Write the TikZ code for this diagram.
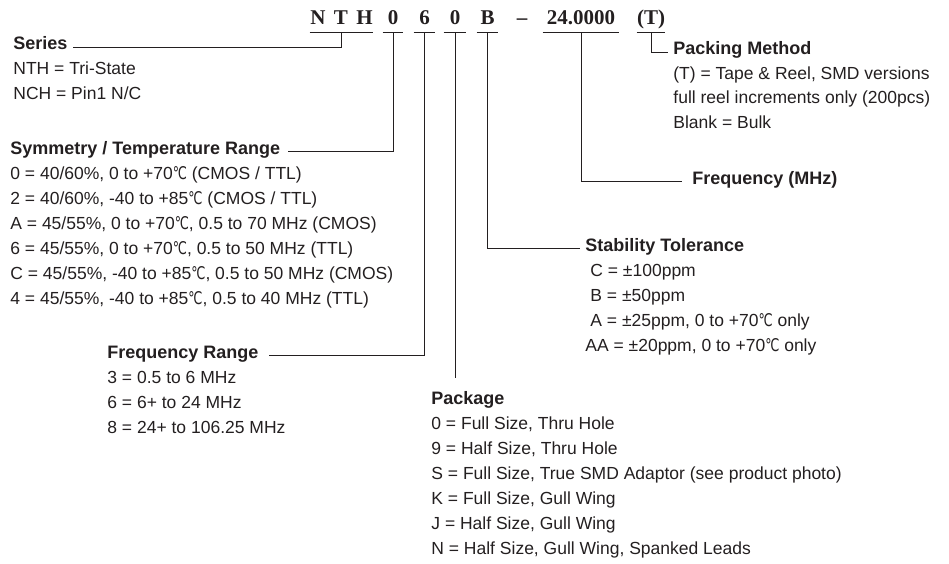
\documentclass[tikz,border=0pt]{standalone}
\usepackage{fontspec}
\usepackage{graphicx}
\setmainfont{Liberation Sans}
\newfontfamily\codefont{Liberation Serif}
\newfontfamily\symfont{DejaVu Sans}
\newcommand\degC{\scalebox{0.72}[1]{\symfont ℃}}
\definecolor{ink}{HTML}{231F20}

\begin{document}
\begin{tikzpicture}[x=1pt, y=-1pt, line width=0.8pt, draw=ink, text=ink,
  code/.style={font=\codefont\bfseries\fontsize{21}{21}\selectfont,
    anchor=base, inner sep=0pt, text depth=7pt},
  head/.style={font=\bfseries\fontsize{18}{20}\selectfont,
    anchor=base west, inner sep=0pt},
  item/.style={font=\fontsize{17.5}{20}\selectfont,
    anchor=base west, inner sep=0pt},
]
  \useasboundingbox (0,0) rectangle (949,564);
  % part number, each field underlined
  \node[code, minimum width=63pt] (ser) at (341.5,25) {N\hspace{8.5pt}T\hspace{8.5pt}H};
  \node[code, minimum width=20pt] (sym) at (393,25) {0};
  \node[code, minimum width=21pt] (rng) at (424.5,25) {6};
  \node[code, minimum width=22pt] (pkg) at (455,25) {0};
  \node[code, minimum width=21pt] (stb) at (487.5,25) {B};
  \node[code] (dash) at (522,25) {–};
  \node[code, minimum width=76pt] (frq) at (581,25) {24.0000};
  \node[code, minimum width=20pt] (pck) at (651,25) {(T)};
  \foreach \c in {ser,sym,rng,pkg,stb,frq,pck}
    \draw (\c.south west) -- (\c.south east);

  % Series
  \node[head] (series) at (13,50) {Series};
  \foreach \t [count=\i] in {NTH = Tri-State, NCH = Pin1 N/C}
    \node[item] (series-\i) at (13,50+25*\i) {\t};

  % Symmetry / Temperature
  \node[head] (symmetry) at (10,154) {Symmetry / Temperature Range};
  \foreach \t [count=\i] in {
      {0 = 40/60\%, 0 to +70\degC{} (CMOS / TTL)},
      {2 = 40/60\%, -40 to +85\degC{} (CMOS / TTL)},
      {A = 45/55\%, 0 to +70\degC, 0.5 to 70 MHz (CMOS)},
      {6 = 45/55\%, 0 to +70\degC, 0.5 to 50 MHz (TTL)},
      {C = 45/55\%, -40 to +85\degC, 0.5 to 50 MHz (CMOS)},
      {4 = 45/55\%, -40 to +85\degC, 0.5 to 40 MHz (TTL)}}
    \node[item] (symmetry-\i) at (10,154+25*\i) {\t};

  % Frequency Range
  \node[head] (freqrange) at (107,358) {Frequency Range};
  \foreach \t [count=\i] in {3 = 0.5 to 6 MHz, 6 = 6+ to 24 MHz, 8 = 24+ to 106.25 MHz}
    \node[item] (freqrange-\i) at (107,358+25*\i) {\t};

  % Package
  \node[head] (package) at (431,404) {Package};
  \foreach \t [count=\i] in {
      {0 = Full Size, Thru Hole},
      {9 = Half Size, Thru Hole},
      {S = Full Size, True SMD Adaptor (see product photo)},
      {K = Full Size, Gull Wing},
      {J = Half Size, Gull Wing},
      {N = Half Size, Gull Wing, Spanked Leads}}
    \node[item] (package-\i) at (431,404+25*\i) {\t};

  % Stability
  \node[head] (stability) at (585,251) {Stability Tolerance};
  \foreach \dx/\t [count=\i] in {590/{C = ±100ppm}, 590/{B = ±50ppm},
      590/{A = ±25ppm, 0 to +70\degC{} only}, 585/{AA = ±20ppm, 0 to +70\degC{} only}}
    \node[item] (stability-\i) at (\dx,251+25*\i) {\t};

  % Frequency
  \node[head] (frequency) at (692,184) {Frequency (MHz)};

  % Packing
  \node[head] (packing) at (673,55) {Packing Method};
  \foreach \t [count=\i] in {{(T) = Tape \& Reel, SMD versions},
      full reel increments only (200pcs), Blank = Bulk}
    \node[item] (packing-\i) at (673,55+24.5*\i) {\t};

  % leaders
  \draw (ser.south) |- ([xshift=5pt]series.mid east);
  \draw (sym.south) |- ([xshift=7pt]symmetry.mid east);
  \draw (rng.south) |- ([xshift=10pt]freqrange.mid east);
  \draw (pkg.south) -- ([yshift=13pt]pkg.south |- package.north);
  \draw (stb.south) |- ([xshift=-5pt]stability.mid west);
  \draw (frq.south) |- ([xshift=-10pt]frequency.mid west);
  \draw (pck.south) |- ([xshift=-5pt]packing.mid west);
\end{tikzpicture}
\end{document}
